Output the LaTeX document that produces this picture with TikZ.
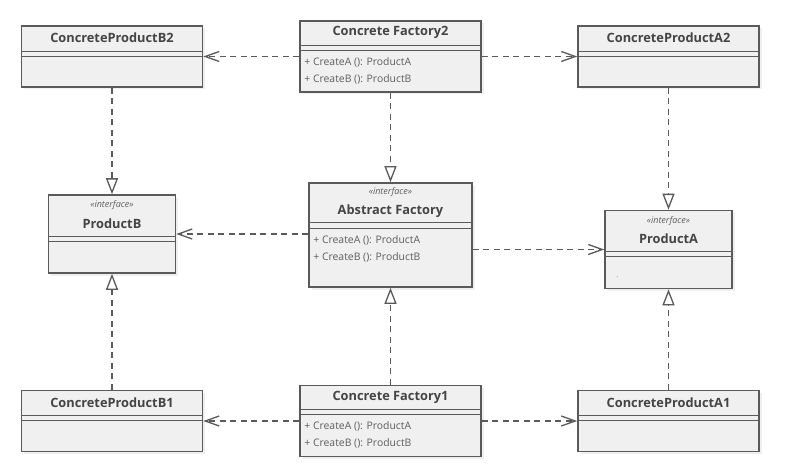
\documentclass[tikz,border=0pt]{standalone}
\usepackage{fontspec}
\setmainfont{Open Sans}
\usetikzlibrary{arrows.meta,shadows}
\definecolor{boxline}{HTML}{5A5A5A}
\definecolor{boxfill}{HTML}{F0F0F0}
\definecolor{txt}{HTML}{444444}
\definecolor{mtxt}{HTML}{5E5E5E}
\begin{document}
\begin{tikzpicture}[x=1pt, y=-1pt,
    box/.style={draw=boxline, line width=1.6pt, fill=boxfill, inner sep=0pt,
        drop shadow={opacity=0.12, shadow xshift=2.5pt, shadow yshift=-2.5pt}},
    sep/.style={draw=boxline, line width=1.3pt},
    title/.style={text=txt, font=\fontsize{12.8}{14}\selectfont\bfseries, inner sep=0pt},
    stereo/.style={text=mtxt, font=\fontsize{9}{10}\selectfont\itshape, inner sep=0pt},
    meth/.style={text=mtxt, font=\fontsize{10.4}{12}\selectfont, inner sep=0pt, anchor=west},
    dep/.style={draw=boxline, line width=1.3pt, dash pattern=on 6pt off 4.5pt,
        -{Straight Barb[length=14pt, width=10pt, line width=1.3pt]}},
    real/.style={draw=boxline, line width=1.3pt, dash pattern=on 6pt off 4.5pt,
        -{Triangle[open, length=16pt, width=12pt, line width=1.3pt]}}]
        \useasboundingbox (0,0) rectangle (802,465);
        \fill[white] (0,0) rectangle (802,465);

        % Concrete products
        \foreach \n/\t/\x/\y in {cpb2/ConcreteProductB2/112/56.5, cpa2/ConcreteProductA2/668.5/56.5,
                                 cpb1/ConcreteProductB1/112/421, cpa1/ConcreteProductA1/668.5/421} {
            \node[box, minimum width=181pt, minimum height=61pt] (\n) at (\x,\y) {};
            \node[title] (\n-t) at ([yshift=-13pt]\n.north) {\t};
            \draw[sep] ([yshift=-26pt]\n.north west) -- ([yshift=-26pt]\n.north east);
            \draw[sep] ([yshift=-31pt]\n.north west) -- ([yshift=-31pt]\n.north east);
        }

        % Concrete factories
        \foreach \n/\t/\y in {cf2/Concrete Factory2/56.5, cf1/Concrete Factory1/421} {
            \node[box, minimum width=181pt, minimum height=71pt] (\n) at (390.5,\y) {};
            \node[title] (\n-t) at ([yshift=-12.5pt]\n.north) {\t};
            \draw[sep] ([yshift=-25pt]\n.north west) -- ([yshift=-25pt]\n.north east);
            \draw[sep] ([yshift=-30pt]\n.north west) -- ([yshift=-30pt]\n.north east);
            \node[meth] (\n-ma) at ([xshift=5pt, yshift=-42pt]\n.north west) {+ CreateA (): ProductA};
            \node[meth] (\n-mb) at ([xshift=5pt, yshift=-59pt]\n.north west) {+ CreateB (): ProductB};
        }

        % Product interfaces
        \foreach \n/\t/\x/\y in {pb/ProductB/112/234, pa/ProductA/668.5/249.5} {
            \node[box, minimum width=127pt, minimum height=78pt] (\n) at (\x,\y) {};
            \node[stereo] (\n-s) at ([yshift=-11pt]\n.north) {«interface»};
            \node[title] (\n-t) at ([yshift=-29pt]\n.north) {\t};
            \draw[sep] ([yshift=-42pt]\n.north west) -- ([yshift=-42pt]\n.north east);
            \draw[sep] ([yshift=-47pt]\n.north west) -- ([yshift=-47pt]\n.north east);
        }
        \node[meth, font=\fontsize{7}{8}\selectfont] (pa-dot) at ([xshift=12pt, yshift=-67pt]pa.north west) {.};

        % Abstract factory
        \node[box, minimum width=163pt, minimum height=104pt] (af) at (390.5,235) {};
        \node[stereo] (af-s) at ([yshift=-10pt]af.north) {«interface»};
        \node[title] (af-t) at ([yshift=-29pt]af.north) {Abstract Factory};
        \draw[sep] ([yshift=-40pt]af.north west) -- ([yshift=-40pt]af.north east);
        \draw[sep] ([yshift=-46pt]af.north west) -- ([yshift=-46pt]af.north east);
        \node[meth] (af-ma) at ([xshift=5pt, yshift=-58pt]af.north west) {+ CreateA (): ProductA};
        \node[meth] (af-mb) at ([xshift=5pt, yshift=-75pt]af.north west) {+ CreateB (): ProductB};

        % Dependencies
        \draw[dep] (cf2.west |- cpb2.east) -- (cpb2.east);
        \draw[dep] (cf2.east |- cpa2.west) -- (cpa2.west);
        \draw[dep] (cf1.west |- cpb1.east) -- (cpb1.east);
        \draw[dep] (cf1.east |- cpa1.west) -- (cpa1.west);
        \draw[dep] (af.west |- pb.east) -- (pb.east);
        \draw[dep] (af.east |- pa.west) -- (pa.west);

        % Realizations
        \draw[real] (cf2.south) -- (af.north);
        \draw[real] (cf1.north) -- (af.south);
        \draw[real] (cpb2.south) -- (pb.north);
        \draw[real] (cpb1.north) -- (pb.south);
        \draw[real] (cpa2.south) -- (pa.north);
        \draw[real] (cpa1.north) -- (pa.south);
\end{tikzpicture}
\end{document}
